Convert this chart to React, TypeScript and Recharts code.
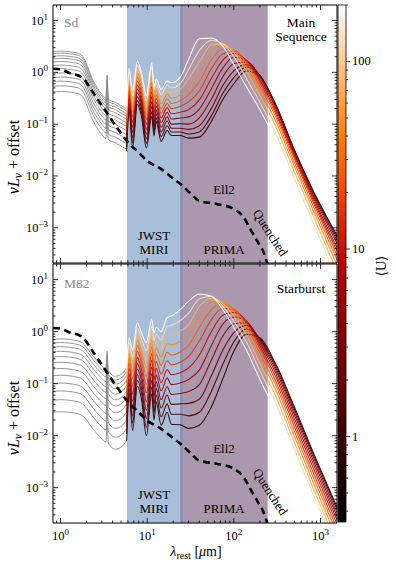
import React from "react";
import { LineChart, Line, XAxis, YAxis, ReferenceArea, ReferenceLine } from "recharts";

// wavelength grids in micron
const grayLam = [0.82, 1.0, 1.6, 1.8, 2.4, 3.0, 3.35, 3.45, 3.55, 4.3, 5.2, 5.75];
const dustLam = [5.8, 6.2, 6.8, 7.7, 8.6, 9.8, 11.3, 12.0, 12.7, 14.5, 17, 19, 24, 30, 40, 55, 75, 100, 140, 200, 300, 500, 800, 1550];

// quenched template (Ell2), log10 nuLnu
const ell2Lam = [0.82, 1.0, 1.3, 1.6, 1.8, 2.4, 3.3, 4.5, 6.0, 8, 10, 14, 20, 24, 30, 40, 63, 98, 130, 152, 190, 216, 250];
const ell2Log = [0.07, 0.06, -0.02, -0.06, -0.11, -0.4, -0.74, -1.07, -1.35, -1.55, -1.71, -1.85, -2.05, -2.15, -2.3, -2.48, -2.54, -2.63, -2.8, -3.0, -3.28, -3.44, -3.75];

// <U> of each model curve (low to high)
const uValues = [0.75, 1.25, 2.1, 3.5, 5.8, 9.7, 16, 27, 45, 75, 125, 200];

// Sd / main sequence: log10 nuLnu + offset
const sdGray = [
  [-0.38, -0.37, -0.41, -0.47, -0.95, -1.2, -1.28, -0.83, -1.3, -1.36, -1.44, -1.48],
  [-0.27, -0.26, -0.3, -0.36, -0.84, -1.09, -1.17, -0.72, -1.19, -1.25, -1.33, -1.37],
  [-0.18, -0.17, -0.21, -0.27, -0.75, -1.0, -1.08, -0.63, -1.1, -1.16, -1.24, -1.28],
  [-0.1, -0.09, -0.13, -0.19, -0.67, -0.92, -1.0, -0.55, -1.02, -1.08, -1.16, -1.2],
  [-0.02, -0.01, -0.05, -0.11, -0.59, -0.84, -0.92, -0.47, -0.94, -1.0, -1.08, -1.12],
  [0.06, 0.07, 0.03, -0.03, -0.51, -0.76, -0.84, -0.39, -0.86, -0.92, -1.0, -1.04],
  [0.13, 0.14, 0.1, 0.04, -0.44, -0.69, -0.77, -0.32, -0.79, -0.85, -0.93, -0.97],
  [0.2, 0.21, 0.17, 0.11, -0.37, -0.62, -0.7, -0.25, -0.72, -0.78, -0.86, -0.9],
  [0.26, 0.27, 0.23, 0.17, -0.31, -0.56, -0.64, -0.19, -0.66, -0.72, -0.8, -0.84],
  [0.31, 0.32, 0.28, 0.22, -0.26, -0.51, -0.59, -0.14, -0.61, -0.67, -0.75, -0.79],
  [0.36, 0.37, 0.33, 0.27, -0.21, -0.46, -0.54, -0.09, -0.56, -0.62, -0.7, -0.74],
  [0.4, 0.41, 0.37, 0.31, -0.17, -0.42, -0.5, -0.05, -0.52, -0.58, -0.66, -0.7],
];
const sdDust = [
  [-1.52, -0.75, -1.46, -0.62, -0.85, -1.46, -0.85, -1.23, -0.95, -1.33, -1.12, -1.22, -1.22, -1.27, -1.25, -0.95, -0.52, -0.22, 0.03, -0.08, -0.6, -1.5, -2.24, -3.15],
  [-1.44, -0.68, -1.36, -0.55, -0.77, -1.37, -0.76, -1.14, -0.88, -1.24, -1.03, -1.15, -1.15, -1.19, -1.15, -0.84, -0.4, -0.1, 0.1, -0.06, -0.6, -1.5, -2.26, -3.19],
  [-1.36, -0.6, -1.26, -0.47, -0.69, -1.28, -0.66, -1.05, -0.8, -1.15, -0.94, -1.08, -1.08, -1.1, -1.03, -0.7, -0.25, 0.03, 0.15, -0.06, -0.62, -1.52, -2.29, -3.24],
  [-1.28, -0.52, -1.16, -0.4, -0.61, -1.19, -0.57, -0.96, -0.73, -1.06, -0.86, -1.0, -0.99, -1.0, -0.88, -0.52, -0.08, 0.17, 0.2, -0.07, -0.64, -1.55, -2.33, -3.3],
  [-1.2, -0.45, -1.06, -0.32, -0.54, -1.1, -0.47, -0.87, -0.65, -0.97, -0.77, -0.9, -0.88, -0.86, -0.71, -0.32, 0.09, 0.29, 0.23, -0.1, -0.68, -1.58, -2.37, -3.38],
  [-1.12, -0.37, -0.96, -0.25, -0.46, -1.0, -0.38, -0.78, -0.58, -0.88, -0.68, -0.8, -0.77, -0.72, -0.53, -0.12, 0.24, 0.37, 0.23, -0.15, -0.73, -1.62, -2.41, -3.45],
  [-1.04, -0.3, -0.86, -0.17, -0.38, -0.91, -0.28, -0.69, -0.5, -0.79, -0.6, -0.7, -0.66, -0.57, -0.36, 0.07, 0.36, 0.41, 0.21, -0.2, -0.78, -1.67, -2.46, -3.53],
  [-0.96, -0.22, -0.76, -0.1, -0.3, -0.82, -0.19, -0.6, -0.43, -0.7, -0.51, -0.6, -0.55, -0.43, -0.18, 0.24, 0.45, 0.43, 0.17, -0.27, -0.84, -1.74, -2.53, -3.62],
  [-0.88, -0.14, -0.66, -0.02, -0.22, -0.73, -0.09, -0.51, -0.35, -0.61, -0.42, -0.5, -0.44, -0.28, 0.0, 0.4, 0.5, 0.42, 0.1, -0.35, -0.92, -1.82, -2.62, -3.72],
  [-0.8, -0.07, -0.56, 0.06, -0.15, -0.64, 0.0, -0.42, -0.28, -0.52, -0.34, -0.4, -0.33, -0.12, 0.2, 0.53, 0.55, 0.38, 0.02, -0.45, -1.02, -1.92, -2.72, -3.85],
  [-0.72, 0.01, -0.46, 0.13, -0.07, -0.55, 0.1, -0.33, -0.2, -0.43, -0.25, -0.3, -0.22, 0.05, 0.42, 0.62, 0.55, 0.3, -0.12, -0.58, -1.15, -2.05, -2.85, -4.0],
  [-0.65, 0.08, -0.35, 0.21, 0.0, -0.45, 0.19, -0.28, -0.13, -0.33, -0.17, -0.2, -0.1, 0.25, 0.65, 0.66, 0.5, 0.15, -0.28, -0.72, -1.3, -2.2, -3.0, -4.2],
];

// M82 / starburst
const m82Gray = [
  [-1.55, -1.54, -1.58, -1.62, -1.88, -2.06, -2.12, -1.78, -2.14, -2.26, -2.2, -2.1],
  [-1.32, -1.31, -1.35, -1.39, -1.65, -1.83, -1.89, -1.55, -1.91, -2.03, -1.97, -1.87],
  [-1.15, -1.14, -1.18, -1.22, -1.48, -1.66, -1.72, -1.38, -1.74, -1.86, -1.8, -1.7],
  [-1.0, -0.99, -1.03, -1.07, -1.33, -1.51, -1.57, -1.23, -1.59, -1.71, -1.65, -1.55],
  [-0.85, -0.84, -0.88, -0.92, -1.18, -1.36, -1.42, -1.08, -1.44, -1.56, -1.5, -1.4],
  [-0.72, -0.71, -0.75, -0.79, -1.05, -1.23, -1.29, -0.95, -1.31, -1.43, -1.37, -1.27],
  [-0.6, -0.59, -0.63, -0.67, -0.93, -1.11, -1.17, -0.83, -1.19, -1.31, -1.25, -1.15],
  [-0.49, -0.48, -0.52, -0.56, -0.82, -1.0, -1.06, -0.72, -1.08, -1.2, -1.14, -1.04],
  [-0.39, -0.38, -0.42, -0.46, -0.72, -0.9, -0.96, -0.62, -0.98, -1.1, -1.04, -0.94],
  [-0.3, -0.29, -0.33, -0.37, -0.63, -0.81, -0.87, -0.53, -0.89, -1.01, -0.95, -0.85],
  [-0.22, -0.21, -0.25, -0.29, -0.55, -0.73, -0.79, -0.45, -0.81, -0.93, -0.87, -0.77],
  [-0.15, -0.14, -0.18, -0.22, -0.48, -0.66, -0.72, -0.38, -0.74, -0.86, -0.8, -0.7],
];
const m82Dust = [
  [-2.1, -1.2, -1.9, -1.05, -1.3, -2.0, -1.2, -1.7, -1.35, -1.8, -1.55, -1.78, -1.79, -1.86, -1.8, -1.45, -0.9, -0.38, -0.05, -0.12, -0.6, -1.45, -2.27, -3.37],
  [-1.97, -1.1, -1.76, -0.94, -1.18, -1.84, -1.07, -1.55, -1.22, -1.64, -1.39, -1.59, -1.59, -1.62, -1.55, -1.15, -0.62, -0.2, 0.05, -0.13, -0.63, -1.49, -2.31, -3.42],
  [-1.83, -1.0, -1.62, -0.83, -1.07, -1.67, -0.94, -1.39, -1.09, -1.47, -1.22, -1.4, -1.39, -1.38, -1.3, -0.85, -0.35, -0.02, 0.12, -0.15, -0.67, -1.54, -2.36, -3.48],
  [-1.7, -0.91, -1.48, -0.72, -0.95, -1.51, -0.81, -1.24, -0.96, -1.31, -1.06, -1.21, -1.19, -1.15, -1.02, -0.55, -0.08, 0.15, 0.17, -0.18, -0.72, -1.6, -2.42, -3.55],
  [-1.56, -0.81, -1.34, -0.61, -0.84, -1.35, -0.68, -1.09, -0.83, -1.14, -0.89, -1.02, -0.99, -0.92, -0.74, -0.27, 0.15, 0.28, 0.2, -0.22, -0.78, -1.67, -2.49, -3.62],
  [-1.43, -0.71, -1.2, -0.5, -0.72, -1.18, -0.55, -0.93, -0.7, -0.98, -0.73, -0.83, -0.79, -0.7, -0.45, 0.0, 0.32, 0.37, 0.2, -0.27, -0.85, -1.75, -2.57, -3.7],
  [-1.3, -0.61, -1.05, -0.38, -0.6, -1.02, -0.42, -0.78, -0.57, -0.82, -0.56, -0.64, -0.59, -0.48, -0.18, 0.23, 0.45, 0.42, 0.17, -0.33, -0.93, -1.83, -2.66, -3.79],
  [-1.16, -0.51, -0.91, -0.27, -0.49, -0.86, -0.29, -0.63, -0.44, -0.65, -0.4, -0.45, -0.39, -0.27, 0.08, 0.42, 0.53, 0.43, 0.11, -0.41, -1.01, -1.92, -2.75, -3.88],
  [-1.03, -0.42, -0.77, -0.16, -0.37, -0.7, -0.16, -0.48, -0.31, -0.49, -0.23, -0.26, -0.19, -0.07, 0.3, 0.56, 0.56, 0.38, 0.03, -0.5, -1.1, -2.02, -2.85, -3.98],
  [-0.89, -0.32, -0.63, -0.05, -0.26, -0.53, -0.03, -0.32, -0.18, -0.32, -0.07, -0.07, 0.01, 0.13, 0.48, 0.64, 0.54, 0.3, -0.07, -0.62, -1.22, -2.13, -2.96, -4.08],
  [-0.76, -0.22, -0.49, 0.06, -0.14, -0.37, 0.1, -0.17, -0.05, -0.16, 0.1, 0.12, 0.21, 0.35, 0.63, 0.68, 0.48, 0.2, -0.2, -0.76, -1.36, -2.26, -3.08, -4.2],
  [-0.63, -0.12, -0.35, 0.17, -0.02, -0.21, 0.23, -0.02, 0.08, 0.0, 0.27, 0.3, 0.42, 0.58, 0.72, 0.68, 0.42, 0.08, -0.36, -0.92, -1.52, -2.4, -3.2, -4.3],
];

// instrument coverage (micron)
const miriRange = [5.85, 26.5];
const primaRange = [24, 246];

const X0 = Math.log10(0.82);
const X1 = Math.log10(1550);
const Y0 = -3.68;
const Y1 = 1.3;
const U0 = Math.log10(0.35);
const U1 = Math.log10(200);

const FONT = '"Liberation Serif", "Times New Roman", "DejaVu Serif", serif';
const PL = 53; // plot left (px)
const PR = 337; // plot right (px)

const logTicks = (lo: number, hi: number) => {
  const out: number[] = [];
  for (let n = Math.floor(lo) - 1; n <= Math.ceil(hi); n++) {
    for (let m = 1; m <= 9; m++) {
      const v = m === 1 ? n : Math.log10(m) + n;
      if (v >= lo - 1e-9 && v <= hi + 1e-9) out.push(v);
    }
  }
  return out;
};
const xTicks = logTicks(X0, X1);
const yTicks = logTicks(Y0, Y1);
const uTicks = logTicks(U0, U1);

const isMajor = (v: number) => Math.abs(v - Math.round(v)) < 1e-6;
const expo = (n: number) => (n < 0 ? "\u2212" + Math.abs(n) : String(n));

const gistHeat = (t: number) => {
  const c = (v: number) => Math.round(255 * Math.max(0, Math.min(1, v)));
  return `rgb(${c(1.5 * t)},${c(2 * t - 1)},${c(4 * t - 3)})`;
};
const uColor = (u: number) => gistHeat((Math.log10(u) - U0) / (U1 - U0));

const toSeries = (lam: number[], vals: number[]) =>
  lam.map((l, i) => ({ x: Math.log10(l), y: vals[i] }));

const txt = { fontFamily: FONT };

function XTick(props: any) {
  const { x, payload, top, bottom, showLabel } = props;
  const v = payload.value as number;
  const major = isMajor(v);
  const len = major ? 5 : 2.5;
  return (
    <g>
      <line x1={x} x2={x} y1={bottom} y2={bottom - len} stroke="#000" strokeWidth={0.8} />
      <line x1={x} x2={x} y1={top} y2={top + len} stroke="#000" strokeWidth={0.8} />
      {showLabel && major && (
        <text x={x} y={bottom + 17} textAnchor="middle" fontSize={12.5} style={txt} fill="#000">
          10<tspan dy={-5} fontSize={9}>{expo(Math.round(v))}</tspan>
        </text>
      )}
    </g>
  );
}

function YTick(props: any) {
  const { y, payload } = props;
  const v = payload.value as number;
  const major = isMajor(v);
  const len = major ? 5 : 2.5;
  return (
    <g>
      <line x1={PL} x2={PL + len} y1={y} y2={y} stroke="#000" strokeWidth={0.8} />
      <line x1={PR} x2={PR - len} y1={y} y2={y} stroke="#000" strokeWidth={0.8} />
      {major && (
        <text x={PL - 5} y={y + 4} textAnchor="end" fontSize={12.5} style={txt} fill="#000">
          10<tspan dy={-5} fontSize={9}>{expo(Math.round(v))}</tspan>
        </text>
      )}
    </g>
  );
}

function UTick(props: any) {
  const { y, payload } = props;
  const v = payload.value as number;
  const major = isMajor(v);
  const len = major ? 4 : 2;
  return (
    <g>
      <line x1={9} x2={9 + len} y1={y} y2={y} stroke="#000" strokeWidth={0.8} />
      {major && (
        <text x={15} y={y + 4} fontSize={12.5} style={txt} fill="#000">
          {Math.round(Math.pow(10, v))}
        </text>
      )}
    </g>
  );
}

function Panel({ gray, dust, height, bottomMargin, showX }: any) {
  const plotBottom = height - bottomMargin;
  return (
    <LineChart width={396} height={height} margin={{ top: 5, right: 396 - PR, bottom: bottomMargin - 1, left: PL - 1 }}>
      <ReferenceArea x1={Math.log10(miriRange[0])} x2={Math.log10(primaRange[0])} fill="#a9bfd9" fillOpacity={1} stroke="none" />
      <ReferenceArea x1={Math.log10(primaRange[0])} x2={Math.log10(miriRange[1])} fill="#8d90b1" fillOpacity={1} stroke="none" />
      <ReferenceArea x1={Math.log10(miriRange[1])} x2={Math.log10(primaRange[1])} fill="#ab97ae" fillOpacity={1} stroke="none" />
      <XAxis
        dataKey="x"
        type="number"
        domain={[X0, X1]}
        allowDataOverflow
        ticks={xTicks}
        interval={0}
        height={1}
        tickLine={false}
        tickSize={0}
        axisLine={{ stroke: "#000" }}
        tick={<XTick top={5} bottom={plotBottom} showLabel={showX} />}
      />
      <YAxis
        type="number"
        domain={[Y0, Y1]}
        allowDataOverflow
        ticks={yTicks}
        interval={0}
        width={1}
        tickLine={false}
        tickSize={0}
        axisLine={{ stroke: "#000" }}
        tick={<YTick />}
      />
      {gray.map((row: number[], k: number) => (
        <Line
          key={"g" + k}
          data={toSeries(grayLam, row)}
          dataKey="y"
          type="monotone"
          stroke="#8a8a8a"
          strokeWidth={0.9}
          dot={false}
          activeDot={false}
          isAnimationActive={false}
        />
      ))}
      {dust.map((row: number[], k: number) => (
        <Line
          key={"d" + k}
          data={toSeries(dustLam, row)}
          dataKey="y"
          type="monotone"
          stroke={uColor(uValues[k])}
          strokeOpacity={0.92}
          strokeWidth={1.1}
          dot={false}
          activeDot={false}
          isAnimationActive={false}
        />
      ))}
      <Line
        data={toSeries(ell2Lam, ell2Log)}
        dataKey="y"
        type="monotone"
        stroke="#000"
        strokeWidth={2.6}
        strokeDasharray="7 4.5"
        dot={false}
        activeDot={false}
        isAnimationActive={false}
      />
      <ReferenceLine y={Y1} stroke="#000" strokeWidth={1} ifOverflow="visible" />
      <ReferenceLine x={X1} stroke="#000" strokeWidth={1} ifOverflow="visible" />
    </LineChart>
  );
}

export default function App() {
  return (
    <div style={{ position: "absolute", left: 0, top: 0, width: 396, height: 563, background: "#fff", fontFamily: FONT }}>
      <div style={{ position: "absolute", left: 0, top: 0 }}>
        <Panel gray={sdGray} dust={sdDust} height={268} bottomMargin={5} showX={false} />
      </div>
      <div style={{ position: "absolute", left: 0, top: 259 }}>
        <Panel gray={m82Gray} dust={m82Dust} height={304} bottomMargin={40} showX={true} />
      </div>
      <div style={{ position: "absolute", left: 337, top: 0 }}>
        <LineChart width={59} height={528} margin={{ top: 5, right: 49, bottom: 6, left: 1 }}>
          <defs>
            <linearGradient id="cbGrad" x1="0" y1="1" x2="0" y2="0">
              <stop offset="0" stopColor="#000000" />
              <stop offset="0.5" stopColor="#bf0000" />
              <stop offset="0.6667" stopColor="#ff5500" />
              <stop offset="0.75" stopColor="#ff8000" />
              <stop offset="1" stopColor="#ffffff" />
            </linearGradient>
          </defs>
          <XAxis type="number" dataKey="x" domain={[0, 1]} allowDataOverflow hide />
          <YAxis
            type="number"
            orientation="right"
            domain={[U0, U1]}
            allowDataOverflow
            ticks={uTicks}
            interval={0}
            width={1}
            tickLine={false}
            tickSize={0}
            axisLine={false}
            tick={<UTick />}
          />
          <ReferenceArea x1={0} x2={1} y1={U0} y2={U1} fill="url(#cbGrad)" fillOpacity={1} stroke="#000" strokeWidth={0.8} ifOverflow="visible" />
        </LineChart>
      </div>
      <svg width={396} height={563} style={{ position: "absolute", left: 0, top: 0, pointerEvents: "none", fontFamily: FONT }}>
        {/* panel annotations */}
        <text x={64} y={27} fontSize={13.5} fill="#8a8a8a">Sd</text>
        <text x={64} y={288} fontSize={13.5} fill="#8a8a8a">M82</text>
        <text x={301} y={27} fontSize={13.5} textAnchor="middle">Main</text>
        <text x={301} y={41} fontSize={13.5} textAnchor="middle">Sequence</text>
        <text x={301} y={293} fontSize={13.5} textAnchor="middle">Starburst</text>
        {[0, 259].map((dy) => (
          <g key={dy}>
            <text x={154} y={240 + dy} fontSize={13} textAnchor="middle">JWST</text>
            <text x={154} y={254 + dy} fontSize={13} textAnchor="middle">MIRI</text>
            <text x={224} y={254 + dy} fontSize={13} textAnchor="middle">PRIMA</text>
            <text x={224} y={194 + dy} fontSize={13} textAnchor="middle">Ell2</text>
            <text x={270} y={237 + dy} fontSize={13} textAnchor="middle" transform={`rotate(57 270 ${233 + dy})`}>Quenched</text>
          </g>
        ))}
        {/* axis labels */}
        {[157, 418].map((cy) => (
          <text key={cy} x={19} y={cy} fontSize={16} textAnchor="middle" transform={`rotate(-90 19 ${cy})`}>
            <tspan fontStyle="italic">νL</tspan>
            <tspan fontStyle="italic" fontSize={11.5} dy={3}>ν</tspan>
            <tspan dy={-3}> + offset</tspan>
          </text>
        ))}
        <text x={196} y={556} fontSize={14} textAnchor="middle">
          <tspan fontStyle="italic">λ</tspan>
          <tspan fontSize={10} dy={3}>rest</tspan>
          <tspan dy={-3}> [</tspan>
          <tspan fontStyle="italic">μ</tspan>
          <tspan>m]</tspan>
        </text>
        <text x={386} y={266} fontSize={14} textAnchor="middle" transform="rotate(-90 386 266)">⟨U⟩</text>
      </svg>
    </div>
  );
}
